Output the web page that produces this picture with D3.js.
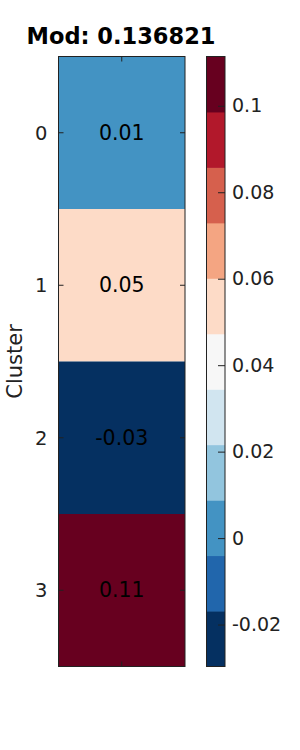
<!DOCTYPE html>
<html>
<head>
<meta charset="utf-8">
<script src="https://cdn.jsdelivr.net/npm/d3@7"></script>
<style>
  body { margin: 0; background: #fff; }
  text { font-family: "DejaVu Sans", sans-serif; }
</style>
</head>
<body>
<svg id="canvas" width="300" height="750"></svg>
<script>
var clusters = ['0', '1', '2', '3'];
var modValues = [0.0075, 0.0503, -0.0297, 0.1114];
var colorTicks = [-0.02, 0, 0.02, 0.04, 0.06, 0.08, 0.1];
var title = 'Mod: 0.136821';

var svg = d3.select('#canvas');

var mLeft = 58.5, mRight = 185, mTop = 56.5, mBottom = 666.5;
var cbLeft = 206.5, cbRight = 225;

var vmin = d3.min(modValues), vmax = d3.max(modValues);
var nBins = 11;
var palette = d3.schemeRdBu[11].slice().reverse();
var color = d3.scaleQuantize().domain([vmin, vmax]).range(palette);

var y = d3.scaleBand().domain(clusters).range([mTop, mBottom]);
var x = d3.scaleBand().domain(['']).range([mLeft, mRight]);

// heatmap cells
var cells = svg.append('g');
cells.selectAll('rect')
  .data(clusters)
  .enter()
  .append('rect')
  .attr('x', x(''))
  .attr('y', d => y(d))
  .attr('width', x.bandwidth())
  .attr('height', y.bandwidth())
  .attr('fill', (d, i) => color(modValues[i]));

cells.selectAll('text')
  .data(clusters)
  .enter()
  .append('text')
  .attr('x', x('') + x.bandwidth() / 2)
  .attr('y', d => y(d) + y.bandwidth() / 2)
  .attr('text-anchor', 'middle')
  .attr('dy', '0.35em')
  .style('font-size', '20.5px')
  .style('fill', '#000')
  .text((d, i) => modValues[i].toFixed(2));

// axes with inward ticks
var yAxis = svg.append('g')
  .attr('transform', 'translate(' + mLeft + ',0)')
  .call(d3.axisRight(y).tickSize(5).tickFormat(''));
var yAxisR = svg.append('g')
  .attr('transform', 'translate(' + mRight + ',0)')
  .call(d3.axisLeft(y).tickSize(5).tickFormat(''));
var xAxisT = svg.append('g')
  .attr('transform', 'translate(0,' + mTop + ')')
  .call(d3.axisBottom(x).tickSize(5).tickFormat(''));
var xAxisB = svg.append('g')
  .attr('transform', 'translate(0,' + mBottom + ')')
  .call(d3.axisTop(x).tickSize(5).tickFormat(''));
[yAxis, yAxisR, xAxisT, xAxisB].forEach(a => {
  a.select('.domain').remove();
  a.selectAll('line').style('stroke', '#222');
});

svg.append('rect')
  .attr('x', mLeft).attr('y', mTop)
  .attr('width', mRight - mLeft).attr('height', mBottom - mTop)
  .attr('fill', 'none').attr('stroke', '#222').attr('stroke-width', 1);

svg.append('g')
  .selectAll('text')
  .data(clusters)
  .enter()
  .append('text')
  .attr('x', 47.5)
  .attr('y', d => y(d) + y.bandwidth() / 2)
  .attr('dy', '0.35em')
  .attr('text-anchor', 'end')
  .style('font-size', '19.5px')
  .style('fill', '#222')
  .text(d => d);

svg.append('text')
  .attr('transform', 'translate(22,' + ((mTop + mBottom) / 2) + ') rotate(-90)')
  .attr('text-anchor', 'middle')
  .style('font-size', '21px')
  .style('fill', '#222')
  .text('Cluster');

svg.append('text')
  .attr('x', 121)
  .attr('y', 44)
  .attr('text-anchor', 'middle')
  .style('font-size', '22.5px')
  .style('font-weight', 'bold')
  .text(title);

// colorbar
var cy = d3.scaleLinear().domain([vmin, vmax]).range([mBottom, mTop]);
var binEdges = d3.range(nBins).map(i => vmin + (vmax - vmin) * i / nBins);
var binStep = (vmax - vmin) / nBins;

svg.append('g')
  .selectAll('rect')
  .data(binEdges)
  .enter()
  .append('rect')
  .attr('x', cbLeft)
  .attr('y', d => cy(d + binStep))
  .attr('width', cbRight - cbLeft)
  .attr('height', d => cy(d) - cy(d + binStep) + 0.5)
  .attr('fill', (d, i) => palette[i]);

svg.append('rect')
  .attr('x', cbLeft).attr('y', mTop)
  .attr('width', cbRight - cbLeft).attr('height', mBottom - mTop)
  .attr('fill', 'none').attr('stroke', '#222').attr('stroke-width', 1);

var cAxis = svg.append('g')
  .attr('transform', 'translate(' + cbRight + ',0)')
  .call(d3.axisRight(cy).tickValues(colorTicks).tickSize(-7).tickPadding(7)
    .tickFormat(d => String(d)));
cAxis.select('.domain').remove();
cAxis.selectAll('line').style('stroke', '#222');
cAxis.selectAll('text')
  .style('font-size', '19px')
  .style('fill', '#222')
  .style('font-family', '"DejaVu Sans", sans-serif');
</script>
</body>
</html>
